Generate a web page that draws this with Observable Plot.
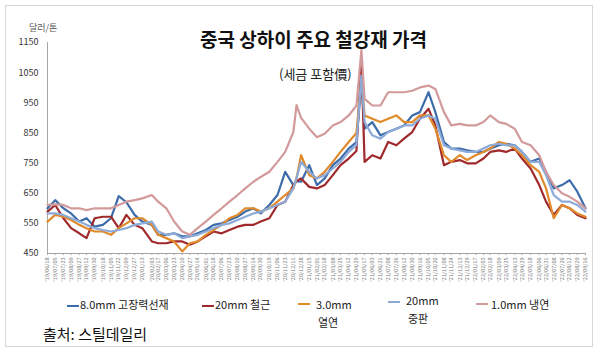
<!DOCTYPE html>
<html><head><meta charset="utf-8">
<script src="https://cdn.jsdelivr.net/npm/d3@7"></script>
<script src="https://cdn.jsdelivr.net/npm/@observablehq/plot@0.6"></script>
<style>
html,body{margin:0;padding:0;background:#fff;}
#wrap{position:relative;width:600px;height:354px;overflow:hidden;font-family:"Noto Sans CJK KR","Noto Sans",sans-serif;}
#frame{position:absolute;left:5px;top:5px;width:588px;height:342px;border:1.5px solid #d6d6d6;box-sizing:border-box;}
#chart{position:absolute;left:0;top:0;}
.t{position:absolute;white-space:nowrap;color:#111;line-height:1;}
.dash{position:absolute;height:2px;width:12px;}
</style></head>
<body>
<div id="wrap">
  <div id="frame"></div>
  <div id="chart"></div>
</div>
<script>
// ---- data ----
const tickLabels = ["2019-06-18","2019-07-05","2019-07-23","2019-08-09","2019-08-27","2019-09-12","2019-09-30","2019-10-18","2019-11-05","2019-11-22","2019-12-09","2019-12-27","2020-01-13","2020-02-03","2020-02-17","2020-03-06","2020-03-23","2020-04-10","2020-04-27","2020-05-14","2020-06-01","2020-06-18","2020-07-06","2020-07-23","2020-08-10","2020-08-27","2020-09-14","2020-09-30","2020-10-19","2020-11-06","2020-11-23","2020-12-11","2020-12-28","2021-01-15","2021-02-01","2021-02-18","2021-03-08","2021-03-25","2021-04-12","2021-04-29","2021-05-17","2021-06-03","2021-06-21","2021-07-08","2021-07-26","2021-08-12","2021-08-30","2021-09-16","2021-10-05","2021-10-20","2021-11-08","2021-11-24","2021-12-13","2021-12-29","2022-01-17","2022-02-03","2022-02-18","2022-03-09","2022-03-25","2022-04-13","2022-04-29","2022-05-18","2022-06-06","2022-06-21","2022-07-08","2022-07-26","2022-08-12","2022-08-29","2022-09-16"];
const dates = ["2019-06-18","2019-07-05","2019-07-23","2019-08-09","2019-08-27","2019-09-12","2019-09-30","2019-10-18","2019-11-05","2019-11-22","2019-12-09","2019-12-27","2020-01-13","2020-02-03","2020-02-17","2020-03-06","2020-03-23","2020-04-10","2020-04-27","2020-05-14","2020-06-01","2020-06-18","2020-07-06","2020-07-23","2020-08-10","2020-08-27","2020-09-14","2020-09-30","2020-10-19","2020-11-06","2020-11-23","2020-12-11","2020-12-18","2020-12-28","2021-01-15","2021-02-01","2021-02-18","2021-03-08","2021-03-25","2021-04-12","2021-04-29","2021-05-10","2021-05-17","2021-06-03","2021-06-21","2021-07-08","2021-07-26","2021-08-12","2021-08-30","2021-09-16","2021-10-05","2021-10-20","2021-11-08","2021-11-24","2021-12-13","2021-12-29","2022-01-17","2022-02-03","2022-02-18","2022-03-09","2022-03-25","2022-04-13","2022-04-29","2022-05-18","2022-06-06","2022-06-21","2022-07-08","2022-07-26","2022-08-12","2022-08-29","2022-09-16"];
const wireRod = [600,627,600,583,556,567,539,545,567,640,620,578,556,545,512,512,517,507,507,517,528,545,550,561,572,589,600,583,611,644,721,677,690,688,743,677,699,743,765,798,820,1020,864,886,842,853,864,875,908,919,985,919,820,798,798,792,787,787,798,809,814,809,787,754,765,721,666,677,693,655,600];
const rebar = [589,611,567,534,517,501,567,572,572,534,578,545,534,490,484,484,490,490,479,490,507,523,517,528,539,545,545,556,567,611,622,677,690,699,671,666,677,710,743,765,790,1090,754,776,765,820,809,831,853,897,930,875,743,754,760,749,749,765,787,792,787,798,765,732,677,622,578,611,600,578,567];
const hotRolled = [556,578,572,561,545,534,523,523,512,534,550,567,567,545,512,501,490,457,484,490,512,528,545,567,578,600,600,589,600,622,644,666,700,776,710,699,721,754,787,820,850,1030,908,897,886,897,908,886,886,908,908,864,776,754,776,760,776,787,798,820,814,798,776,743,721,666,567,611,600,583,572];
const plate = [583,583,578,567,556,545,534,528,523,528,534,545,550,556,523,512,517,501,507,512,523,534,545,550,561,572,583,589,600,611,622,666,700,754,721,699,710,732,754,787,810,1040,886,842,831,853,864,875,875,897,908,897,809,798,792,787,787,798,809,814,809,809,787,754,754,710,644,622,622,611,589];
const coldRolled = [611,613,611,600,600,594,600,600,600,611,622,627,633,644,622,600,556,523,512,534,556,578,600,622,644,666,688,704,721,754,787,853,942,900,864,836,847,875,886,908,940,1125,963,941,941,985,985,985,990,1001,1007,996,919,875,880,875,875,886,908,886,880,864,820,809,776,721,677,650,638,622,600];
const seriesNames = ["8.0mm 고장력선재","20mm 철근","3.0mm 열연","20mm 중판","1.0mm 냉연"];
const seriesColors = ["#3d6caa","#a0292c","#e08a2c","#8dabd8","#d29a9b"];
const yTicks = [450,550,650,750,850,950,1050,1150];

// ---- build table ----
const seriesValues = [wireRod, rebar, hotRolled, plate, coldRolled];
const rows = [];
seriesValues.forEach((vals, s) => {
  vals.forEach((v, i) => rows.push({series: seriesNames[s], date: new Date(dates[i]), value: v}));
});
const tickDates = tickLabels.map(d => new Date(d));
const fmt = d3.utcFormat("'%y/%m/%d");

const chart = Plot.plot({
  width: 600, height: 354,
  marginLeft: 47, marginRight: 15, marginTop: 42, marginBottom: 101,
  style: {fontFamily: "'Noto Sans CJK KR', 'Noto Sans', sans-serif", background: "transparent", color: "#404040"},
  x: {type: "utc", domain: [tickDates[0], tickDates[tickDates.length - 1]], label: null},
  y: {domain: [450, 1150], label: null},
  color: {domain: seriesNames, range: seriesColors},
  marks: [
    Plot.axisY({ticks: yTicks, tickFormat: d => String(d), tickSize: 0, tickPadding: 9, fontSize: 9, label: null, fill: "#333"}),
    Plot.axisX({ticks: tickDates, tickFormat: fmt, tickRotate: -90, fontSize: 5.5, tickSize: 2, tickPadding: 2, label: null, fill: "#777", stroke: "#aaa"}),
    Plot.ruleX([tickDates[0]], {y1: 450, y2: 1150, stroke: "#a6a6a6"}),
    Plot.ruleY([450], {stroke: "#a6a6a6"}),
    Plot.line(rows, {x: "date", y: "value", z: "series", stroke: "series", strokeWidth: 2.2, strokeLinejoin: "round"})
  ]
});
document.getElementById("chart").appendChild(chart);

// ---- titles, legend, source ----
const wrap = document.getElementById("wrap");
function addText(txt, left, top, size, extra) {
  const el = document.createElement("div");
  el.className = "t";
  el.textContent = txt;
  el.style.left = left + "px";
  el.style.top = top + "px";
  el.style.fontSize = size + "px";
  if (extra) Object.assign(el.style, extra);
  wrap.appendChild(el);
  return el;
}
addText("달러/톤", 29, 23, 9, {color: "#555"});
addText("중국 상하이 주요 철강재 가격", 200, 29, 19, {fontWeight: "bold"});
addText("(세금 포함價)", 279, 67, 13, {color: "#222"});

const legendItems = [
  {dash: [67, 305], lines: ["8.0mm 고장력선재"], tx: 80, ty: 299},
  {dash: [202, 305], lines: ["20mm 철근"], tx: 215, ty: 299},
  {dash: [298, 303], lines: ["3.0mm", "열연"], tx: 316, ty: 299},
  {dash: [388, 301], lines: ["20mm", "중판"], tx: 406, ty: 295},
  {dash: [476, 303], lines: ["1.0mm 냉연"], tx: 491, ty: 299}
];
legendItems.forEach((it, k) => {
  const d = document.createElement("div");
  d.className = "dash";
  d.style.left = it.dash[0] + "px";
  d.style.top = it.dash[1] + "px";
  d.style.background = seriesColors[k];
  wrap.appendChild(d);
  it.lines.forEach((ln, j) => addText(ln, it.tx + (j ? 2 : 0), it.ty + j * 18, 11, {color: "#222"}));
});
addText("출처: 스틸데일리", 43, 326, 15, {color: "#111"});
</script>
</body></html>
